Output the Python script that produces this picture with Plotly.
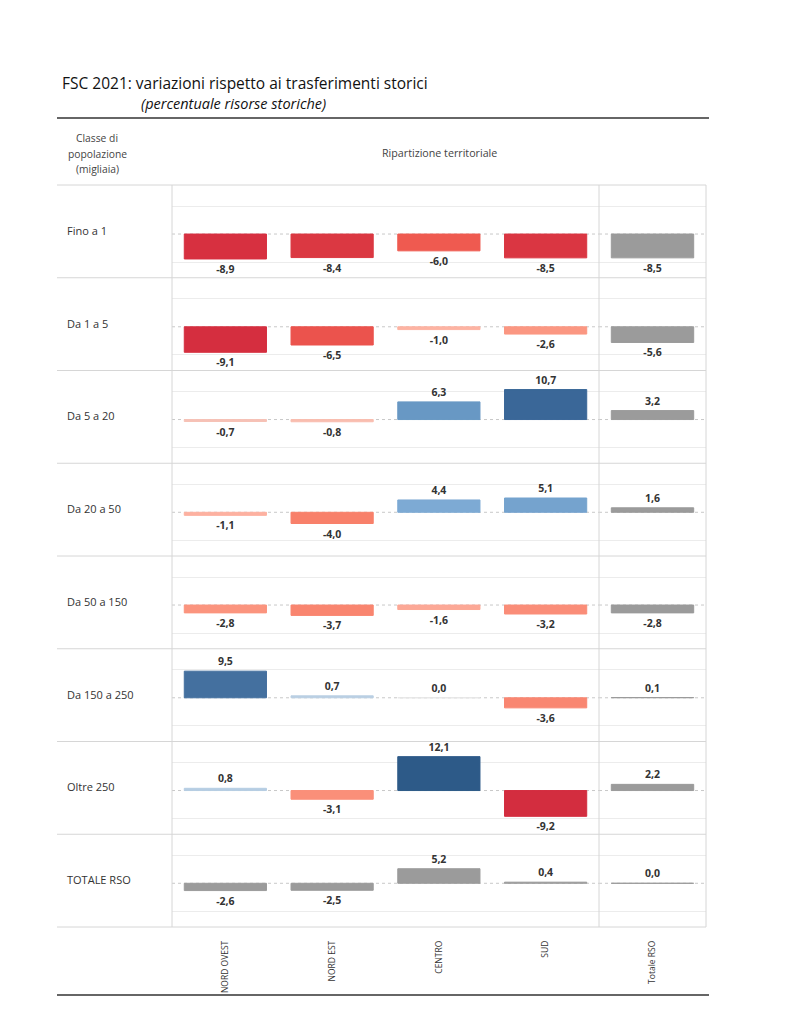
import plotly.graph_objects as go

# ---- data ----
row_labels = ["Fino a 1", "Da 1 a 5", "Da 5 a 20", "Da 20 a 50", "Da 50 a 150",
              "Da 150 a 250", "Oltre 250", "TOTALE RSO"]
regions = ["NORD OVEST", "NORD EST", "CENTRO", "SUD"]
total_col = ["Totale RSO"]
nord_ovest = [-8.9, -9.1, -0.7, -1.1, -2.8, 9.5, 0.8, -2.6]
nord_est = [-8.4, -6.5, -0.8, -4.0, -3.7, 0.7, -3.1, -2.5]
centro = [-6.0, -1.0, 6.3, 4.4, -1.6, 0.0, 12.1, 5.2]
sud = [-8.5, -2.6, 10.7, 5.1, -3.2, -3.6, -9.2, 0.4]
totale_rso = [-8.5, -5.6, 3.2, 1.6, -2.8, 0.1, 2.2, 0.0]

title = "FSC 2021: variazioni rispetto ai trasferimenti storici"
subtitle = "(percentuale risorse storiche)"
header_left = ["Classe di", "popolazione", "(migliaia)"]
header_right = "Ripartizione territoriale"

# ---- style ----
W, H = 786, 1024
OFF = 8  # page body margin
FONT = "Open Sans"
GRAY = "#9b9b9b"
colorscale = [
    [0.0, "#a90c38"], [0.128, "#d62f3f"], [0.252, "#ef5a50"], [0.335, "#f8806a"],
    [0.388, "#fb9580"], [0.459, "#fdb3a2"], [0.5, "#e6e6e6"], [0.531, "#b7cde3"],
    [0.682, "#7daad4"], [0.76, "#6898c4"], [0.893, "#44709f"], [0.942, "#3a6798"],
    [1.0, "#2d5a88"],
]
CMAX = 12.1

left_x, split_x, right_x = 172, 599, 706
outer_l, outer_r = 57, 709
top_y, bot_y = 185, 927
n_rows = len(row_labels)
row_h = (bot_y - top_y) / n_rows
yr = [-15.6, 17.5]


def px(x):
    return (x - OFF) / W


def py(y):
    return 1 - (y - OFF) / H


def fmt(v):
    return f"{v:.1f}".replace(".", ",")


fig = go.Figure()
layout = {}
shapes = []
annotations = []
label_font = dict(family=FONT, size=10.5, color="#333333", weight="bold")

for i in range(n_rows):
    vals = [nord_ovest[i], nord_est[i], centro[i], sud[i]]
    a1, a2 = 2 * i + 1, 2 * i + 2
    xn1 = "x" if a1 == 1 else f"x{a1}"
    yn1 = "y" if a1 == 1 else f"y{a1}"
    xn2, yn2 = f"x{a2}", f"y{a2}"
    is_total_row = (i == n_rows - 1)
    if is_total_row:
        mk = dict(color=GRAY, line=dict(color=GRAY, width=1))
    else:
        mk = dict(color=vals, colorscale=colorscale, cmin=-CMAX, cmax=CMAX,
                  line=dict(color=vals, colorscale=colorscale, cmin=-CMAX, cmax=CMAX, width=1))
    fig.add_trace(go.Bar(
        x=regions, y=vals, xaxis=xn1, yaxis=yn1, marker=mk,
        text=[fmt(v) for v in vals], textposition="outside", cliponaxis=False,
        constraintext="none", textfont=label_font,
        showlegend=False, hoverinfo="skip"))
    fig.add_trace(go.Bar(
        x=total_col, y=[totale_rso[i]], xaxis=xn2, yaxis=yn2,
        marker=dict(color=GRAY, line=dict(color=GRAY, width=1)),
        text=[fmt(totale_rso[i])], textposition="outside", cliponaxis=False,
        constraintext="none", textfont=label_font,
        showlegend=False, hoverinfo="skip"))

    y_top = top_y + i * row_h
    y_bot = y_top + row_h
    ydom = [py(y_bot), py(y_top)]
    for a, xdom, cats in ((a1, [px(left_x), px(split_x)], regions),
                          (a2, [px(split_x), px(right_x)], total_col)):
        xk = "xaxis" if a == 1 else f"xaxis{a}"
        yk = "yaxis" if a == 1 else f"yaxis{a}"
        yname = "y" if a == 1 else f"y{a}"
        xname = "x" if a == 1 else f"x{a}"
        layout[xk] = dict(domain=xdom, anchor=yname, type="category",
                          range=[-0.5, len(cats) - 0.5], showgrid=False,
                          zeroline=False, showline=False, ticks="",
                          showticklabels=is_total_row, tickangle=-90,
                          ticklabelstandoff=11,
                          tickfont=dict(family=FONT, size=8.5, color="#333333"),
                          fixedrange=True)
        layout[yk] = dict(domain=ydom, anchor=xname, range=yr,
                          tickvals=[-10, 10], showticklabels=False,
                          showgrid=True, gridcolor="#ececec", gridwidth=1,
                          zeroline=False, showline=False, fixedrange=True)
        shapes.append(dict(type="line", xref=f"{xname} domain", yref=yname,
                           x0=0, x1=1, y0=0, y1=0, layer="below",
                           line=dict(color="#c8c8c8", width=1, dash="dot")))

    annotations.append(dict(text=row_labels[i], xref="paper", yref="paper",
                            x=px(65), y=py(y_top + row_h / 2 - 1), xanchor="left",
                            yanchor="middle", showarrow=False,
                            font=dict(family=FONT, size=11, color="#333333")))

# frame lines
for k in range(n_rows + 1):
    y = top_y + k * row_h
    shapes.append(dict(type="line", xref="paper", yref="paper", x0=px(outer_l),
                       x1=px(right_x), y0=py(y), y1=py(y),
                       line=dict(color="#d6d6d6", width=1)))
for x in (left_x, split_x, right_x):
    shapes.append(dict(type="line", xref="paper", yref="paper", x0=px(x), x1=px(x),
                       y0=py(top_y), y1=py(bot_y),
                       line=dict(color="#d6d6d6", width=1)))
for y in (118, 995):
    shapes.append(dict(type="line", xref="paper", yref="paper", x0=px(outer_l),
                       x1=px(outer_r), y0=py(y), y1=py(y),
                       line=dict(color="#333333", width=1.5)))

annotations += [
    dict(text=title, xref="paper", yref="paper", x=px(60), y=py(83),
         xanchor="left", yanchor="middle", showarrow=False,
         font=dict(family=FONT, size=15.5, color="#111111")),
    dict(text=f"<i>{subtitle}</i>", xref="paper", yref="paper", x=px(139), y=py(103),
         xanchor="left", yanchor="middle", showarrow=False,
         font=dict(family=FONT, size=14.5, color="#111111")),
    dict(text=header_right, xref="paper", yref="paper", x=px(439), y=py(153),
         xanchor="center", yanchor="middle", showarrow=False,
         font=dict(family=FONT, size=10.7, color="#444444")),
]
for j, line in enumerate(header_left):
    annotations.append(dict(text=line, xref="paper", yref="paper", x=px(97),
                            y=py(138 + j * 15.5), xanchor="center", yanchor="middle",
                            showarrow=False,
                            font=dict(family=FONT, size=10.3, color="#444444")))

fig.update_layout(width=W, height=H, margin=dict(l=0, r=0, t=0, b=0),
                  paper_bgcolor="white", plot_bgcolor="rgba(0,0,0,0)",
                  bargap=0.23, shapes=shapes, annotations=annotations,
                  font=dict(family=FONT), **layout)

fig.write_html("out.html")
